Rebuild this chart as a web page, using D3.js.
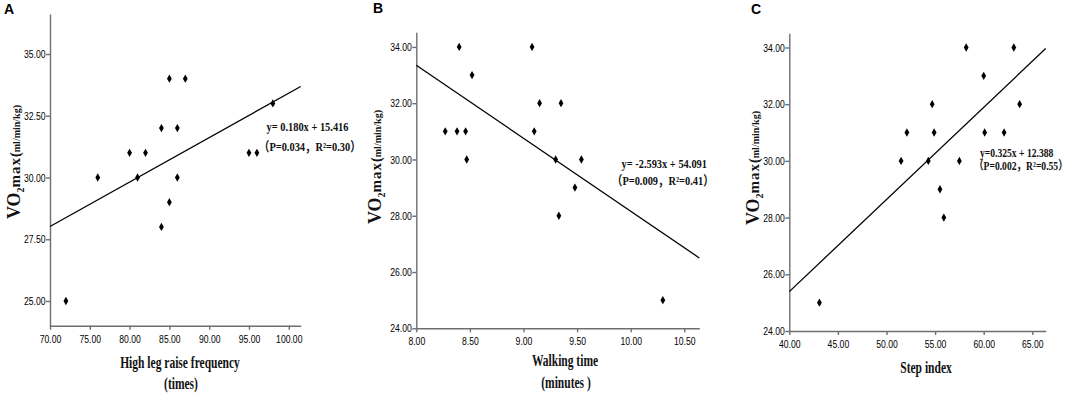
<!DOCTYPE html>
<html lang="en">
<head>
<meta charset="UTF-8">
<title>VO2max scatter plots</title>
<style>
  body { margin: 0; background: #fff; }
  svg { display: block; }
  .axis path, .axis line { stroke: #6e6e6e; stroke-width: 1.4; }
  .axis text { font-family: "Liberation Sans", Arial, sans-serif; font-size: 11.5px; fill: #000; }
  .serif { font-family: "Liberation Serif", "Times New Roman", "Noto Sans CJK SC", serif; font-weight: bold; fill: #111; }
  .letter { font-family: "Liberation Sans", Arial, sans-serif; font-weight: bold; font-size: 14px; fill: #000; }
</style>
</head>
<body>
<svg id="chart" width="1084" height="397"></svg>
<script src="https://d3js.org/d3.v7.min.js"></script>
<script>
// A: high leg raise frequency vs VO2max
const legRaise = [72, 76, 80, 81, 82, 84, 84, 85, 85, 86, 86, 87, 95, 96, 98];
const vo2A = [25, 30, 31, 30, 31, 32, 28, 34, 29, 32, 30, 34, 31, 31, 33];
// B: walking time vs VO2max
const walkTime = [8.27, 8.38, 8.40, 8.46, 8.47, 8.52, 9.08, 9.10, 9.15, 9.30, 9.33, 9.35, 9.48, 9.54, 10.30];
const vo2B = [31, 31, 34, 31, 30, 33, 34, 31, 32, 30, 28, 32, 29, 30, 25];
// C: step index vs VO2max
const stepIndex = [43.1, 51.5, 52.1, 54.3, 54.7, 54.9, 55.5, 55.9, 57.5, 58.2, 60.0, 60.1, 62.1, 63.1, 63.7];
const vo2C = [25, 30, 31, 30, 32, 31, 29, 28, 30, 34, 33, 31, 31, 34, 32];

const slopes = [0.180, -2.593, 0.325];
const intercepts = [15.416, 54.091, 12.388];
const eqLines = ["y= 0.180x + 15.416", "y= -2.593x + 54.091", "y=0.325x + 12.388"];
const statLines = ["（P=0.034，R²=0.30）", "（P=0.009，R²=0.41）", "（P=0.002，R²=0.55）"];

const xTicksA = [70, 75, 80, 85, 90, 95, 100];
const yTicksA = [25, 27.5, 30, 32.5, 35];
const xTicksB = [8, 8.5, 9, 9.5, 10, 10.5];
const yTicksB = [24, 26, 28, 30, 32, 34];
const xTicksC = [40, 45, 50, 55, 60, 65];
const yTicksC = [24, 26, 28, 30, 32, 34];

const panelLetters = ["A", "B", "C"];
const xTitles = [["High leg raise frequency", "(times)"], ["Walking time", "(minutes )"], ["Step index"]];

const svg = d3.select("#chart");
const fmt = d3.format(".2f");
const squash = 0.75;

const layout = [
  { xd: [70, 101.5], xr: [50, 300.7], yd: [24, 36.62], yr: [325.7, 14],
    letter: [4, 14], ylab: [20, 162], xlab: [[180, 368], [181, 389]], eq: [[266.5, 131], [259, 151]], eqSize: 13 },
  { xd: [8, 10.64], xr: [416.3, 699.3], yd: [24, 34.52], yr: [328.3, 32.3],
    letter: [373, 13], ylab: [381, 167], xlab: [[565, 366], [566, 388]], eq: [[621.5, 168], [612, 184.5]], eqSize: 13 },
  { xd: [40, 66.38], xr: [789.3, 1045.7], yd: [24, 34.5], yr: [331, 33.3],
    letter: [751, 14], ylab: [759, 168], xlab: [[926, 373]], eq: [[980, 157], [974, 170]], eqSize: 12 }
];

const panels = [
  { xs: legRaise, ys: vo2A, xt: xTicksA, yt: yTicksA },
  { xs: walkTime, ys: vo2B, xt: xTicksB, yt: yTicksB },
  { xs: stepIndex, ys: vo2C, xt: xTicksC, yt: yTicksC }
];

function squashed(sel, str, x, y, size, anchor, k) {
  return sel.append("text")
    .attr("class", "serif")
    .attr("transform", `translate(${x},${y}) scale(${k},1)`)
    .attr("text-anchor", anchor)
    .style("font-size", size + "px")
    .text(str);
}

panels.forEach((p, i) => {
  const L = layout[i];
  const x = d3.scaleLinear().domain(L.xd).range(L.xr);
  const y = d3.scaleLinear().domain(L.yd).range(L.yr);
  const g = svg.append("g");

  // axes
  const xAxis = g.append("g").attr("class", "axis")
    .attr("transform", `translate(0,${L.yr[0]})`)
    .call(d3.axisBottom(x).tickValues(p.xt).tickFormat(fmt).tickSize(4).tickSizeOuter(0).tickPadding(5));
  const yAxis = g.append("g").attr("class", "axis")
    .attr("transform", `translate(${L.xr[0]},0)`)
    .call(d3.axisLeft(y).tickValues(p.yt).tickFormat(fmt).tickSize(4).tickSizeOuter(0).tickPadding(2));
  xAxis.selectAll(".tick text").attr("transform", `scale(${squash},1)`);
  yAxis.selectAll(".tick text").attr("transform", `scale(${squash},1)`);

  // regression line
  const line = d3.line().x(d => x(d)).y(d => y(slopes[i] * d + intercepts[i]));
  g.append("path")
    .attr("d", line(L.xd))
    .attr("fill", "none")
    .attr("stroke", "#000")
    .attr("stroke-width", 1.3);

  // points
  g.selectAll(".pt")
    .data(p.xs.map((v, j) => [v, p.ys[j]]))
    .join("path")
    .attr("class", "pt")
    .attr("transform", d => `translate(${x(d[0])},${y(d[1])})`)
    .attr("d", d3.symbol(d3.symbolDiamond, 20))
    .attr("fill", "#000");

  // panel letter
  g.append("text").attr("class", "letter")
    .attr("x", L.letter[0]).attr("y", L.letter[1])
    .text(panelLetters[i]);

  // y label
  const yl = g.append("text").attr("class", "serif")
    .attr("transform", `translate(${L.ylab[0]},${L.ylab[1]}) rotate(-90)`)
    .attr("text-anchor", "middle");
  yl.append("tspan").style("font-size", "18px").text("VO");
  yl.append("tspan").style("font-size", "10px").attr("dy", 4).text("2");
  yl.append("tspan").style("font-size", "15px").attr("dy", -4).style("letter-spacing", "1px").text("max");
  yl.append("tspan").style("font-size", "14px").text("(");
  yl.append("tspan").style("font-size", "10px").text("ml/min/kg)");

  // x label
  xTitles[i].forEach((t, j) => {
    squashed(g, t, L.xlab[j][0], L.xlab[j][1], 16, "middle", 0.72);
  });

  // equation
  squashed(g, eqLines[i], L.eq[0][0], L.eq[0][1], L.eqSize, "start", 0.8);
  squashed(g, statLines[i], L.eq[1][0], L.eq[1][1], L.eqSize, "start", 0.8);
});
</script>
</body>
</html>
